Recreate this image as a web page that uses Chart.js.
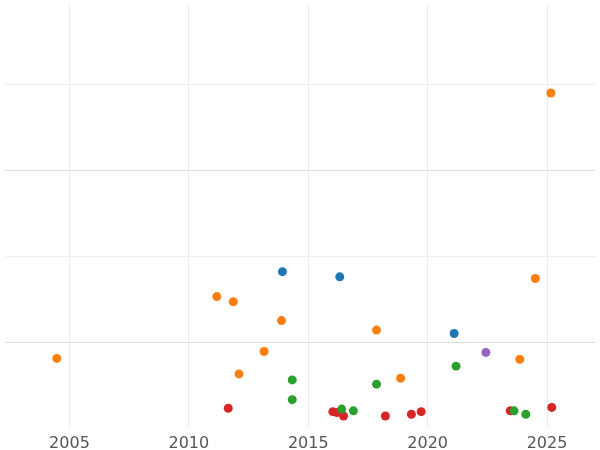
<!DOCTYPE html>
<html><head><meta charset="utf-8">
<script src="https://cdn.jsdelivr.net/npm/chart.js@4"></script>
<style>html,body{margin:0;padding:0;background:#fff}#wrap{width:600px;height:450px}</style>
</head><body><div id="wrap"><canvas id="c"></canvas></div>
<script>
const blueX = [2013.92, 2016.32, 2021.11];
const blueY = [1.82, 1.76, 1.10];
const orangeX = [2025.16, 2004.47, 2011.17, 2011.86, 2013.88, 2013.15, 2012.10, 2017.86, 2018.87, 2024.51, 2023.86];
const orangeY = [3.90, 0.81, 1.53, 1.47, 1.25, 0.89, 0.63, 1.14, 0.58, 1.74, 0.80];
const greenX = [2014.33, 2014.33, 2016.40, 2016.89, 2017.86, 2021.19, 2023.62, 2024.11];
const greenY = [0.56, 0.33, 0.22, 0.20, 0.51, 0.72, 0.20, 0.16];
const redX = [2011.65, 2016.03, 2016.20, 2016.48, 2018.23, 2019.32, 2019.73, 2023.46, 2025.20];
const redY = [0.23, 0.19, 0.18, 0.14, 0.14, 0.16, 0.19, 0.20, 0.24];
const purpleX = [2022.44];
const purpleY = [0.88];

function pts(xs, ys) { return xs.map((x, i) => ({x: x, y: ys[i]})); }
function ds(xs, ys, color) {
  return {data: pts(xs, ys), backgroundColor: color, borderWidth: 0, pointRadius: 4.5};
}

new Chart(document.getElementById('c'), {
  type: 'scatter',
  data: {
    datasets: [
      ds(blueX, blueY, '#1f77b4'),
      ds(orangeX, orangeY, '#ff7f0e'),
      ds(greenX, greenY, '#2ca02c'),
      ds(redX, redY, '#d62728'),
      ds(purpleX, purpleY, '#9467bd')
    ]
  },
  options: {
    responsive: true,
    maintainAspectRatio: false,
    animation: false,
    layout: {padding: {top: -5, left: -5, right: -5, bottom: 0}},
    scales: {
      x: {
        min: 2002.28, max: 2027.03,
        border: {display: false},
        grid: {color: '#ececec', drawTicks: false},
        afterBuildTicks: function(axis) {
          axis.ticks = [2005, 2010, 2015, 2020, 2025].map(v => ({value: v}));
        },
        ticks: {color: '#555', font: {size: 16, family: 'DejaVu Sans'}, padding: 6,
          callback: v => String(v)},
        afterFit: function(axis) { axis.height = 22; }
      },
      y: {
        min: 0, max: 4.93,
        border: {display: false},
        afterBuildTicks: function(axis) {
          axis.ticks = [1, 2, 3, 4].map(v => ({value: v}));
        },
        grid: {color: ctx => (ctx.tick && (ctx.tick.value === 1 || ctx.tick.value === 3)) ? '#dddddd' : '#ededed', drawTicks: false},
        ticks: {display: false},
        afterFit: function(axis) { axis.width = 0; }
      }
    },
    plugins: {legend: {display: false}, tooltip: {enabled: false}}
  }
});
</script>
</body></html>
